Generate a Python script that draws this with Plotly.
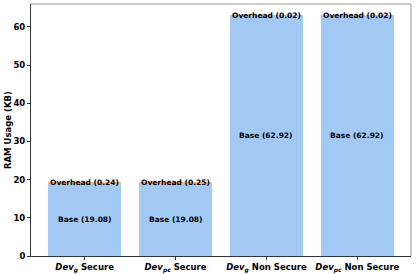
import plotly.graph_objects as go

categories = ["<i>Dev</i><sub><i>g</i></sub> Secure", "<i>Dev</i><sub><i>pc</i></sub> Secure",
              "<i>Dev</i><sub><i>g</i></sub> Non Secure", "<i>Dev</i><sub><i>pc</i></sub> Non Secure"]
base = [19.08, 19.08, 62.92, 62.92]
overhead = [0.24, 0.25, 0.02, 0.02]
yticks = [0, 10, 20, 30, 40, 50, 60]

xs = list(range(len(categories)))
fig = go.Figure()
fig.add_trace(go.Bar(x=xs, y=base, marker=dict(color="#a1c9f4", line=dict(width=0)), width=0.8, name="Base"))
fig.add_trace(go.Bar(x=xs, y=overhead, marker=dict(color="#ffb482", line=dict(width=0)), width=0.8, name="Overhead"))

font = "DejaVu Sans"
for i in xs:
    fig.add_annotation(x=i, y=base[i] / 2, text=f"<b>Base ({base[i]:.2f})</b>", showarrow=False,
                       font=dict(family=font, size=7.5, color="black"))
    fig.add_annotation(x=i, y=base[i] + overhead[i], text=f"<b>Overhead ({overhead[i]:.2f})</b>", showarrow=False,
                       font=dict(family=font, size=7.5, color="black"))

fig.add_annotation(xref="paper", yref="paper", x=0, y=0.5, xanchor="center", yanchor="middle",
                   xshift=-23, textangle=-90, showarrow=False,
                   text="<b>RAM Usage (KB)</b>", font=dict(family=font, size=8.5, color="black"))

fig.update_layout(
    barmode="stack", width=416, height=274, showlegend=False,
    margin=dict(l=31, r=5, t=4, b=18),
    plot_bgcolor="white", paper_bgcolor="white",
    font=dict(family=font, size=8.5, color="black"),
    bargap=0,
)
fig.update_xaxes(range=[-0.59, 3.59], tickvals=xs, ticktext=[f"<b>{c}</b>" for c in categories],
                 ticks="outside", ticklen=3, tickcolor="#333", showline=True, linecolor="#333", linewidth=1,
                 mirror=False, showgrid=False, zeroline=False, tickfont=dict(size=8.5), automargin=False)
fig.update_yaxes(range=[0, 66], tickvals=yticks, ticktext=[f"<b>{t}</b>" for t in yticks],
                 ticks="outside", ticklen=3, tickcolor="#333", showline=True, linecolor="#333", linewidth=1,
                 showgrid=False, zeroline=False, tickfont=dict(size=8.5), automargin=False)
# top and right frame
fig.add_shape(type="line", xref="paper", yref="paper", x0=0, x1=1, y0=1, y1=1, line=dict(color="#999", width=1))
fig.add_shape(type="line", xref="paper", yref="paper", x0=1, x1=1, y0=0, y1=1, line=dict(color="#999", width=1))
fig.write_html("out.html", config={"displayModeBar": False}, post_script="document.body.style.margin='0';")
